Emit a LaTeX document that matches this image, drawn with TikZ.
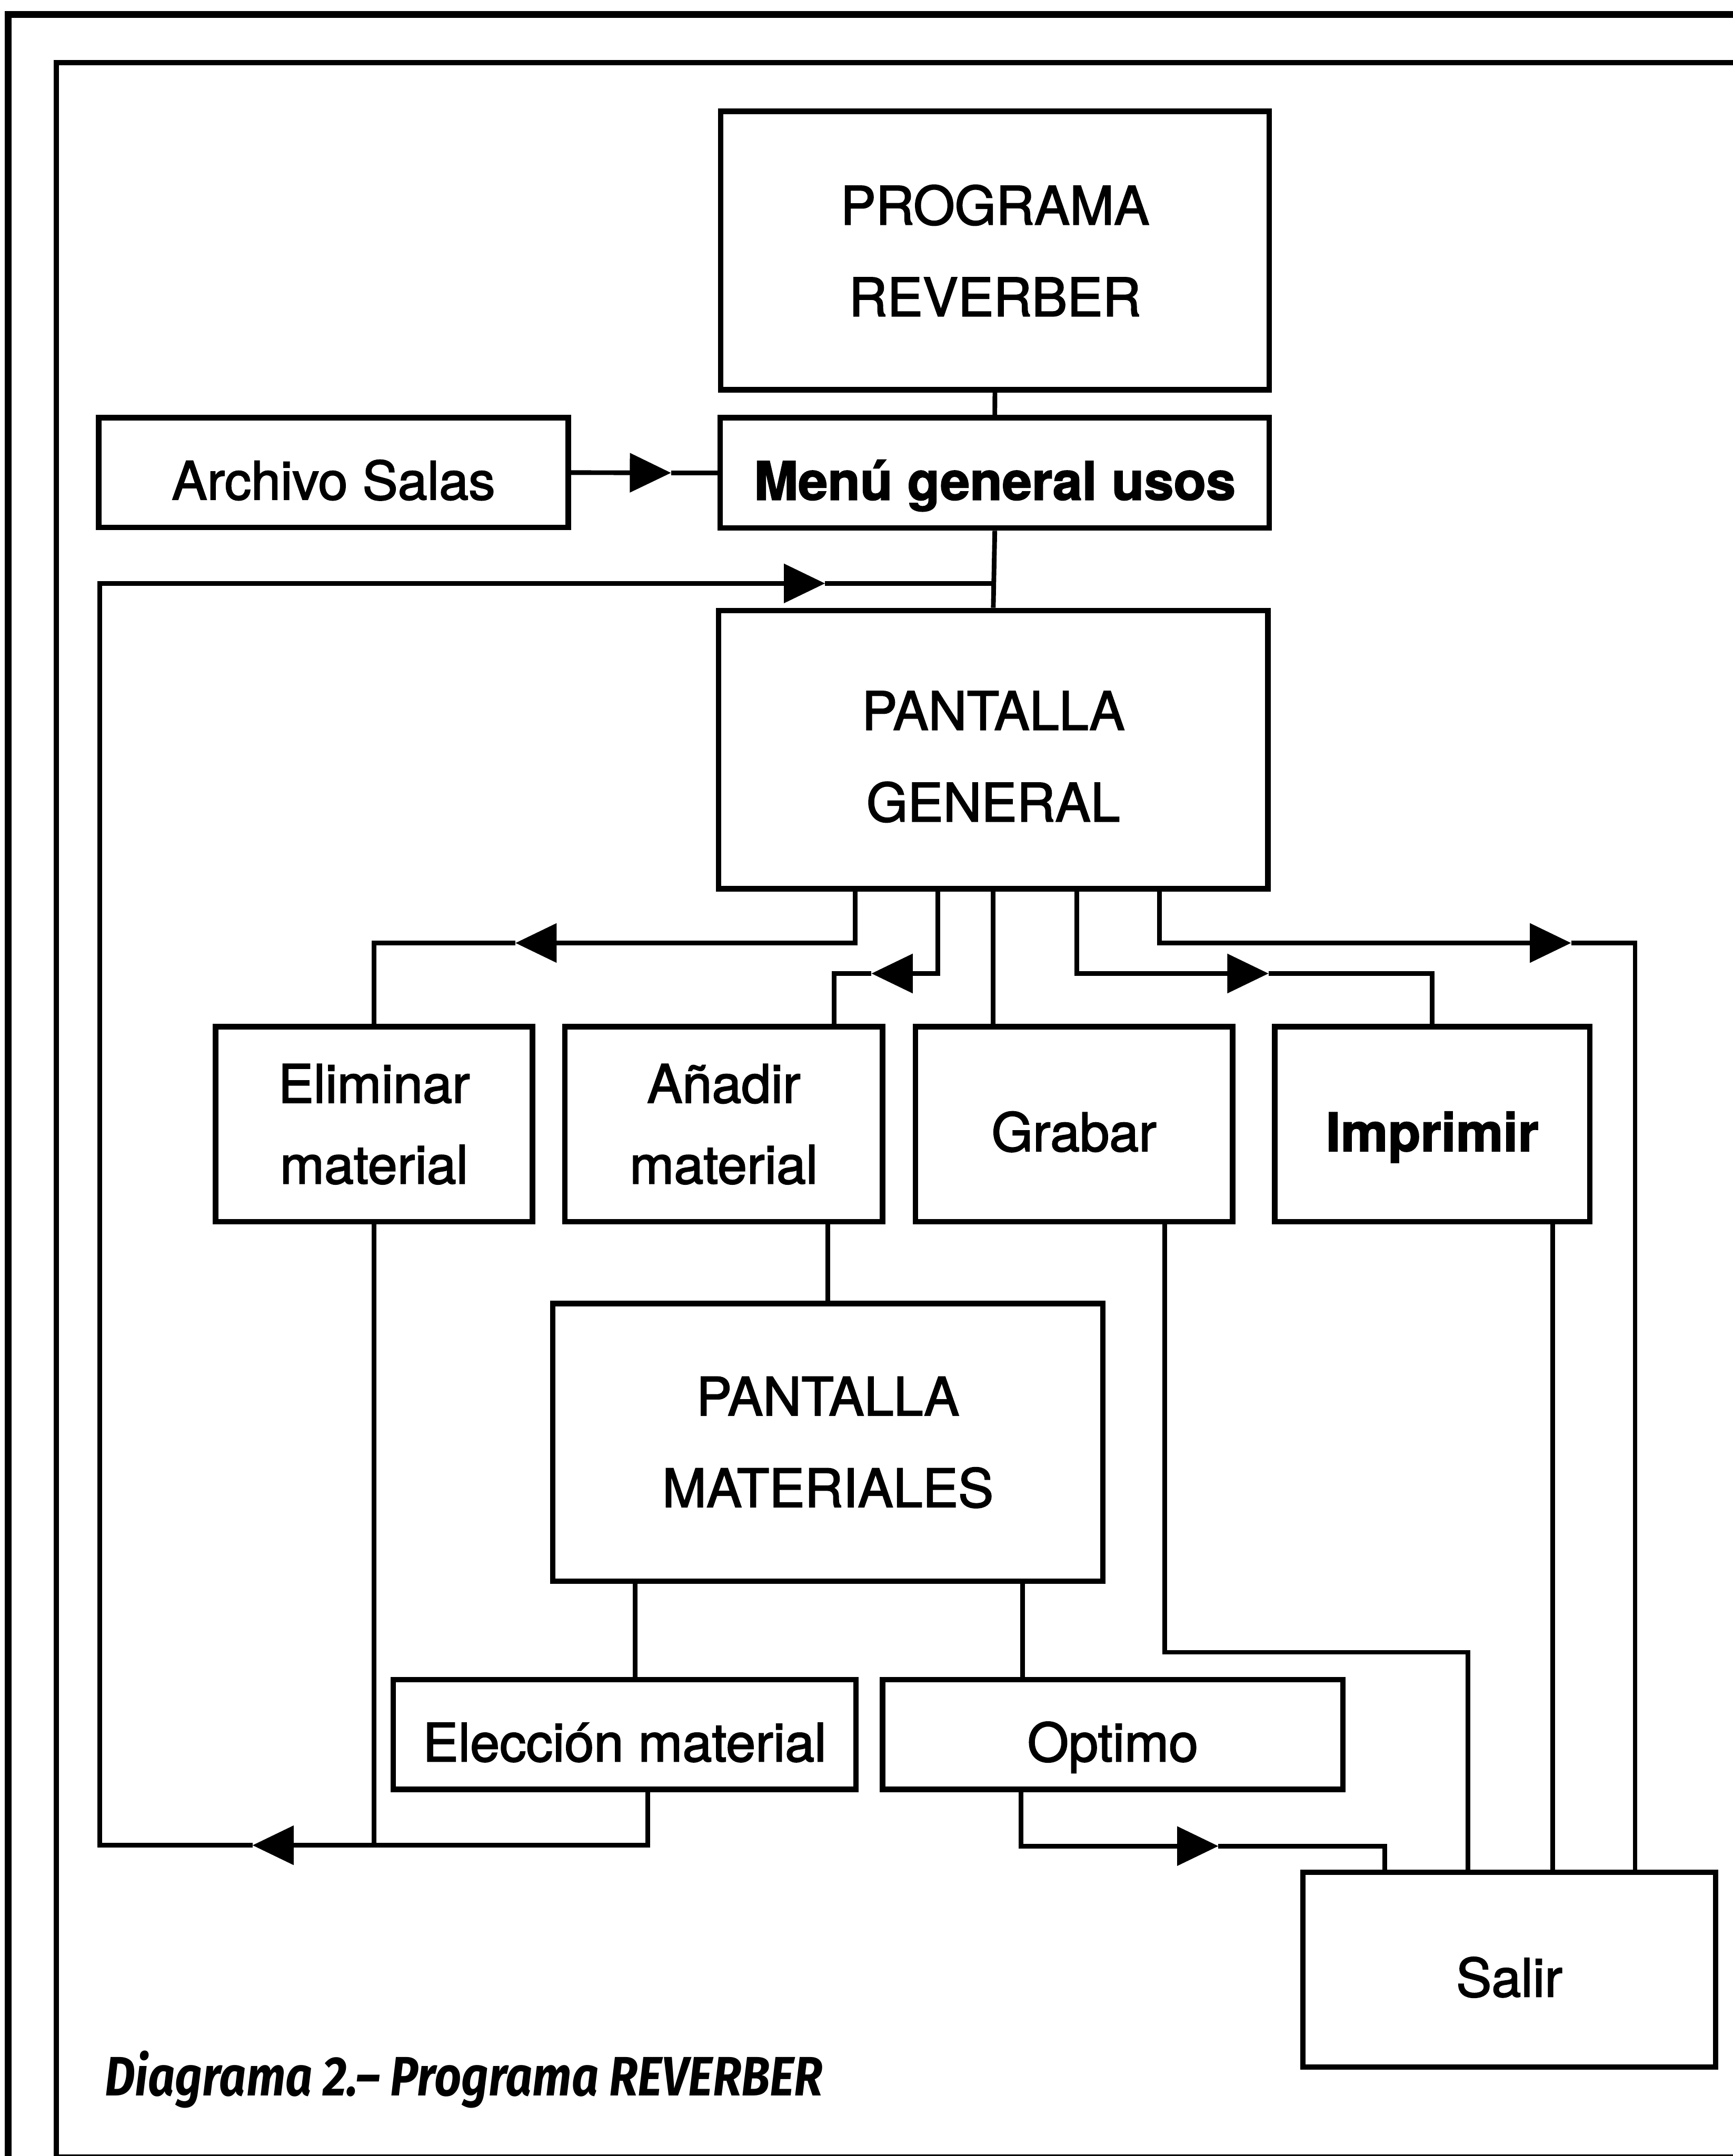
\documentclass[tikz,border=0pt]{standalone}
\usepackage{fontspec}
\usepackage{graphicx}
\setmainfont{TeX Gyre Heros}[FakeBold=2]
\newfontfamily\capfont{Fira Sans}
\usetikzlibrary{arrows.meta,calc}
\begin{document}
\begin{tikzpicture}[x=0.5pt,y=-0.5pt,
  box/.style={draw, line width=2pt, inner sep=0pt, align=center,
    font=\fontsize{19.3}{33.3}\selectfont},
  smallbox/.style={box, font=\fontsize{19.3}{29.4}\selectfont},
  oneline/.style={box, text height=19.6pt, text depth=0pt},
  conn/.style={line width=1.7pt},
  tri/.style={conn, -{Triangle[length=15pt,width=14pt]}}]
\useasboundingbox (0,0) rectangle (1260,1568);
% frames
\draw[line width=2.5pt] (6,1580) -- (6,10.5) -- (1275,10.5);
\draw[line width=1.9pt] (1275,45.7) -- (41.1,45.7) -- (41.1,1568.8) -- (1275,1568.8);
% boxes
\node[box, minimum width=199.5pt, minimum height=101.25pt] (prog) at (723.5,182.2) {PROGRAMA\\REVERBER};
\node[oneline, minimum width=199.65pt, minimum height=40.1pt, font=\fontsize{19.3}{23}\selectfont\bfseries] (menu) at (723.4,343.9) {Menú general usos};
\node[oneline, minimum width=170.75pt, minimum height=39.9pt] (archivo) at (242.5,343.7) {Archivo Salas};
\node[box, minimum width=199.75pt, minimum height=101.2pt, text height=52.2pt, text depth=0pt] (pg) at (722.3,545.2) {PANTALLA\\GENERAL};
\node[smallbox, minimum width=115.2pt, minimum height=70.95pt] (elim) at (272,817.6) {Eliminar\\material};
\node[smallbox, minimum width=115.5pt, minimum height=70.95pt] (anad) at (526.3,817.6) {Añadir\\material};
\node[oneline, minimum width=115.35pt, minimum height=70.95pt] (grab) at (781,817.6) {Grabar};
\node[oneline, minimum width=114.5pt, minimum height=70.95pt, font=\fontsize{19.3}{23}\selectfont\bfseries] (impr) at (1041.5,817.6) {Imprimir};
\node[box, minimum width=200pt, minimum height=101pt] (pm) at (602,1049) {PANTALLA\\MATERIALES};
\node[oneline, minimum width=168.2pt, minimum height=39.95pt] (elec) at (454.2,1261.4) {Elección material};
\node[oneline, minimum width=167.4pt, minimum height=39.95pt] (opt) at (809.2,1261.4) {Optimo};
\node[oneline, minimum width=150.15pt, minimum height=70.8pt] (salir) at (1097.5,1432.5) {Salir};
% caption
\node[anchor=base west, inner sep=0pt, font=\capfont\fontsize{20.2}{24}\selectfont\bfseries\itshape] (cap) at (76,1524)
  {\resizebox{261pt}{\height}{Diagrama 2.– Programa REVERBER}};
% tip coordinates
\coordinate (tA) at (488,343.9);
\coordinate (tT) at (600,424.3);
\coordinate (tB) at (183.6,1342);
\coordinate (lb) at (72.5,1342);
\coordinate (lt) at (72.5,424.3);
\coordinate (t1) at (374.8,685.8);
\coordinate (t2) at (633.7,708);
\coordinate (t4) at (922.5,708);
\coordinate (t5) at (1142.5,685.8);
\coordinate (t6) at (886,1342.6);
% connectors
\draw[conn] (prog.south) -- (menu.north);
\draw[tri] (archivo.east) -- (tA);
\draw[conn] (tA) -- (menu.west);
\draw[conn] (menu.south) -- (pg.north);
% return loop
\draw[tri] (elec.south -| 471,0) |- (tB);
\draw[tri] (tB) -- (lb) -- (lt) -- (tT);
\draw[conn] (tT) -- (menu.south |- tT);
\draw[conn] (elim.south) -- (elim.south |- tB);
% branches from PANTALLA GENERAL
\draw[tri] (pg.south -| 622,0) |- (t1);
\draw[conn] (t1) -| (elim.north);
\draw[tri] (pg.south -| 682,0) |- (t2);
\draw[conn] (t2) -| (anad.north -| 606.7,0);
\draw[conn] (pg.south) -- (pg.south |- grab.north);
\draw[tri] (pg.south -| 783,0) |- (t4);
\draw[conn] (t4) -| (impr.north);
\draw[tri] (pg.south -| 843,0) |- (t5);
\draw[conn] (t5) -| (salir.north -| 1189,0);
% materiales
\draw[conn] (pm.north |- anad.south) -- (pm.north);
\draw[conn] (pm.south -| 462,0) -- (elec.north -| 462,0);
\draw[conn] (pm.south -| 743.5,0) -- (opt.north -| 743.5,0);
% to Salir
\draw[tri] (opt.south -| 742.5,0) |- (t6);
\draw[conn] (t6) -| (salir.north -| 1007,0);
\draw[conn] (grab.south -| 847,0) -- ++(0,311.1) -| (salir.north -| 1067.5,0);
\draw[conn] (impr.south -| 1129,0) -- (salir.north -| 1129,0);
\end{tikzpicture}
\end{document}
